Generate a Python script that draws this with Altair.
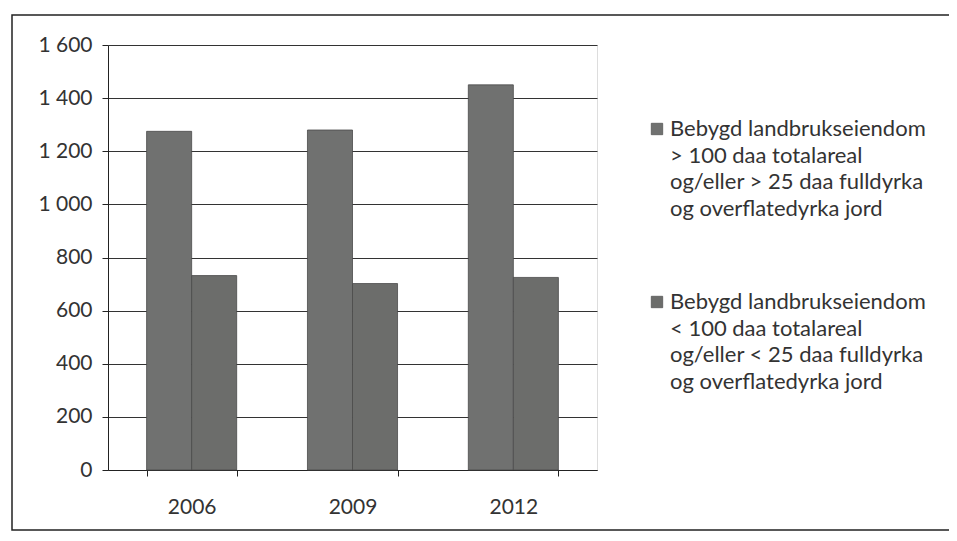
import altair as alt
import pandas as pd

years = ["2006", "2009", "2012"]
series = [
    "Bebygd landbrukseiendom|> 100 daa totalareal|og/eller > 25 daa fulldyrka|og overflatedyrka jord",
    "Bebygd landbrukseiendom|< 100 daa totalareal|og/eller < 25 daa fulldyrka|og overflatedyrka jord",
]
large = [1275, 1280, 1450]
small = [732, 702, 725]
y_ticks = [0, 200, 400, 600, 800, 1000, 1200, 1400, 1600]
colors = ["#707170", "#6c6d6b"]

rows = []
for i, yr in enumerate(years):
    rows.append({"year": yr, "series": series[0], "order": 0, "value": large[i]})
    rows.append({"year": yr, "series": series[1], "order": 1, "value": small[i]})
df = pd.DataFrame(rows)
legend_df = pd.DataFrame({"series": series, "idx": [0, 1]})

AXFONT = "Lato"
LGFONT = "Lato"
color_scale = alt.Scale(domain=series, range=colors)

bars = alt.Chart(df).mark_bar(stroke="#4a4a4a", strokeWidth=0.8).encode(
    x=alt.X("year:N", sort=years, title=None,
            scale=alt.Scale(paddingInner=0.44, paddingOuter=0.24),
            axis=alt.Axis(labelAngle=0, tickBand="extent", tickSize=6, labelPadding=20,
                          labelFontSize=21, labelFont=AXFONT, labelColor="#333",
                          domainColor="#222", tickColor="#222", grid=False)),
    xOffset=alt.XOffset("series:N", sort=series),
    y=alt.Y("value:Q", title=None,
            scale=alt.Scale(domain=[0, 1600], nice=False),
            axis=alt.Axis(values=y_ticks, tickSize=6, labelPadding=10,
                          labelExpr="replace(format(datum.value, ','), ',', ' ')",
                          labelFontSize=21, labelFont=AXFONT, labelColor="#333",
                          domainColor="#222", tickColor="#222",
                          grid=True, gridColor="#333", gridWidth=1)),
    color=alt.Color("series:N", sort=series, scale=color_scale, legend=None),
)

# manual legend (multi-line labels with the swatch on the first line)
legend_layers = []
first_line_y = [84, 257]  # plot-relative y of each entry's first line
for i in range(2):
    base = alt.Chart(legend_df).transform_filter(f"datum.idx == {i}")
    sq = base.mark_square(size=130, stroke="#555", strokeWidth=0.8, opacity=1).encode(
        x=alt.value(549), y=alt.value(first_line_y[i]),
        color=alt.Color("series:N", scale=color_scale, legend=None),
    )
    tx = base.mark_text(align="left", baseline="middle", lineBreak="|", lineHeight=26.5,
                        font=LGFONT, fontSize=22, color="#333").encode(
        x=alt.value(562), y=alt.value(first_line_y[i]), text="series:N",
    )
    legend_layers += [sq, tx]

frame = alt.Chart(alt.Data(values=[{}])).mark_rect(
    fill=None, stroke="#222", strokeWidth=1.5
).encode(
    x=alt.value(-96), x2=alt.value(870), y=alt.value(-30), y2=alt.value(485)
)

chart = alt.layer(bars, *legend_layers, frame).properties(
    width=489, height=425,
    autosize=alt.AutoSizeParams(type="none"),
    padding={"left": 100, "top": 37, "right": 352, "bottom": 62},
).configure_view(stroke=None).configure(background="white")

chart.save("out.html", embed_options={"renderer": "svg", "actions": False})
